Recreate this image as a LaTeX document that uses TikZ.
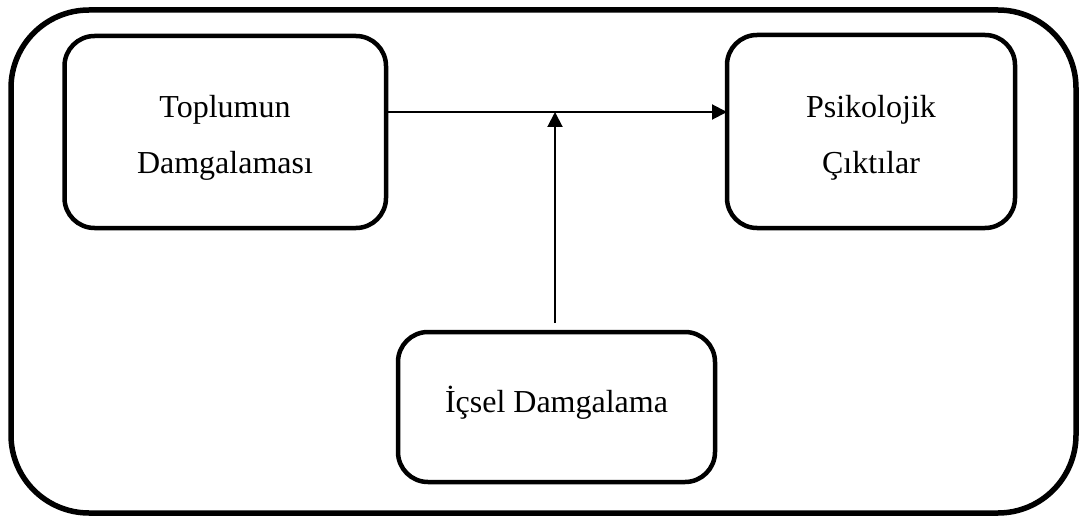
\documentclass[tikz,border=0pt]{standalone}
\usepackage{fontspec}
\setmainfont{Liberation Serif}
\usetikzlibrary{arrows.meta,calc}
\begin{document}
\begin{tikzpicture}[x=1pt,y=-1pt,
  boxstyle/.style={draw, line width=4.5pt, rectangle, rounded corners=30pt, inner sep=0pt, outer sep=0pt},
  framestyle/.style={draw, line width=5.5pt, rectangle, rounded corners=78pt, inner sep=0pt, outer sep=0pt},
  txt/.style={anchor=base, inner sep=0pt, font=\fontsize{32}{55}\selectfont},
  conn/.style={line width=2pt, -{Triangle[length=15pt,width=15pt]}}]
\useasboundingbox (0,0) rectangle (1079,516);
\node[framestyle, minimum width=1065pt, minimum height=503pt] (frame) at (543.5,511.5/1.0-250) {};
\node[boxstyle, minimum width=321.5pt, minimum height=192pt] (b1) at (225.25,132) {};
\node[boxstyle, minimum width=288pt, minimum height=193pt] (b2) at (871,131.5) {};
\node[boxstyle, minimum width=317pt, minimum height=150pt] (b3) at (556.5,407) {};
\node[txt] (t1a) at (225,118) {Toplumun};
\node[txt] (t1b) at (225,173) {Damgalaması};
\node[txt] (t2a) at (871,118) {Psikolojik};
\node[txt] (t2b) at (871,173) {Çıktılar};
\node[txt] (t3) at (556.5,412) {İçsel Damgalama};
\coordinate (h) at (0,112);
\coordinate (m) at (555,112);
\draw[conn] (b1.east |- h) -- (b2.west |- h);
\draw[conn, shorten <=9pt] (b3.north -| m) -- (m);
\end{tikzpicture}
\end{document}
